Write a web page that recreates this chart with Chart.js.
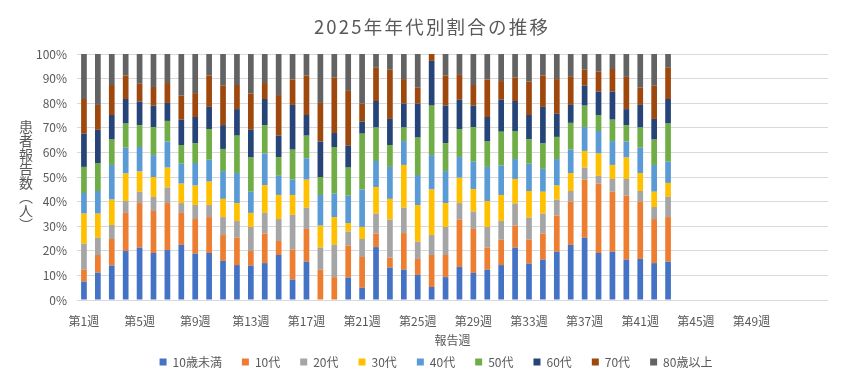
<!DOCTYPE html>
<html lang="ja">
<head>
<meta charset="utf-8">
<script src="https://cdn.jsdelivr.net/npm/chart.js@4"></script>
<style>
  html, body { margin: 0; padding: 0; background: #ffffff; }
  #wrap { position: relative; width: 862px; height: 379px; }
  #title {
    position: absolute; left: 0; top: 17px; width: 862px; text-align: center;
    font-family: 'Noto Sans CJK JP', sans-serif; font-size: 18.5px; line-height: 19px;
    color: #595959; letter-spacing: 2.2px; padding-left: 2px; box-sizing: border-box;
  }
  #ytitle {
    position: absolute; left: 19px; top: 120px;
    writing-mode: vertical-rl; text-orientation: upright;
    font-family: 'Noto Sans CJK JP', sans-serif; font-size: 14px; line-height: 1;
    color: #595959;
  }
</style>
</head>
<body>
<div id="wrap">
  <canvas id="c" width="862" height="379"></canvas>
  <div id="title">2025年年代別割合の推移</div>
  <div id="ytitle">患者報告数（人）</div>
</div>
<script>
const weeks = ["第1週","第2週","第3週","第4週","第5週","第6週","第7週","第8週","第9週","第10週",
  "第11週","第12週","第13週","第14週","第15週","第16週","第17週","第18週","第19週","第20週",
  "第21週","第22週","第23週","第24週","第25週","第26週","第27週","第28週","第29週","第30週",
  "第31週","第32週","第33週","第34週","第35週","第36週","第37週","第38週","第39週","第40週",
  "第41週","第42週","第43週","第44週","第45週","第46週","第47週","第48週","第49週","第50週",
  "第51週","第52週","",""];
const seriesNames = ["10歳未満","10代","20代","30代","40代","50代","60代","70代","80歳以上"];
const yTicks = [0,10,20,30,40,50,60,70,80,90,100];

const under10 = [7.5,11.1,14.0,19.9,21.3,19.1,20.3,22.4,18.8,19.1,15.9,14.2,14.0,15.0,18.3,8.3,15.6,0,0,9.1,5.0,21.5,13.1,12.3,10.2,5.3,9.3,13.4,11.0,12.3,14.2,21.3,14.8,16.4,19.6,22.4,25.3,19.1,19.6,16.4,16.7,15.0,15.6];
const teens = [4.8,7.2,10.8,15.5,18.1,17.1,19.1,13.0,14.1,14.6,10.5,11.1,5.9,12.0,5.7,12.2,13.3,12.3,9.3,13.0,12.5,5.5,4.1,14.9,6.5,13.0,9.0,19.3,17.9,9.0,10.3,8.9,9.7,10.6,14.7,17.6,23.6,28.2,24.4,26.0,23.3,17.9,18.1];
const twenties = [10.6,7.0,5.7,4.8,4.6,5.7,6.3,4.0,5.7,4.9,7.3,6.8,9.8,8.4,8.9,14.1,8.6,9.0,13.1,5.7,7.3,8.1,15.5,10.3,7.0,8.1,11.4,6.7,7.0,8.4,7.6,9.0,9.0,8.1,6.5,4.3,4.9,3.2,5.2,6.8,4.3,4.9,8.2];
const thirties = [12.2,9.8,10.3,11.2,8.2,8.1,8.1,7.9,7.9,9.5,7.4,7.3,5.7,11.3,9.8,8.1,11.4,8.9,11.3,3.5,4.9,10.8,8.4,17.4,14.9,18.5,9.7,10.3,9.2,10.5,10.6,10.0,10.8,8.9,5.7,7.3,6.8,9.0,5.7,8.7,7.3,6.2,5.7];
const forties = [8.4,9.2,14.1,10.5,10.0,8.9,10.6,8.1,9.2,8.9,11.3,12.2,8.6,12.8,7.8,6.2,8.7,12.5,9.5,11.1,15.2,10.6,13.0,9.7,12.2,14.0,13.0,8.4,11.1,13.9,11.9,8.1,11.1,9.3,10.8,9.5,9.7,9.2,9.7,6.5,10.3,10.9,8.6];
const fifties = [10.6,11.4,10.3,9.8,8.9,11.4,8.4,7.6,8.1,12.5,9.0,15.2,13.9,11.6,7.6,12.2,9.2,7.3,19.0,11.4,22.7,13.6,8.9,5.5,15.2,20.1,11.4,11.4,14.1,10.3,13.8,11.4,10.0,10.3,9.0,10.9,8.7,6.5,8.7,6.7,8.2,10.3,15.5];
const sixties = [13.5,13.5,10.0,10.0,9.5,8.7,7.3,10.3,10.6,9.0,9.7,10.8,11.3,10.6,8.7,18.2,8.4,14.4,5.7,8.9,4.9,10.8,10.6,9.7,13.8,18.2,15.2,11.9,8.7,10.0,13.0,12.2,9.8,14.9,9.4,7.3,8.1,9.5,11.4,6.5,9.2,8.4,10.0];
const seventies = [14.1,10.1,12.2,9.5,7.3,7.6,8.1,9.8,9.7,12.7,16.0,9.8,14.7,6.5,16.5,10.3,16.0,15.7,22.5,22.3,7.3,13.5,20.0,10.0,6.5,2.8,12.2,10.1,8.4,15.2,7.6,9.5,13.6,12.7,14.1,11.4,6.5,8.1,9.2,13.1,7.0,13.5,12.7];
const over80 = [18.3,20.7,12.6,8.8,12.1,13.4,11.8,16.9,15.9,8.8,12.9,12.6,16.1,11.8,16.7,10.4,8.8,19.9,9.6,15.0,20.2,5.6,6.4,10.2,13.7,0,8.8,8.5,12.6,10.4,11.0,9.6,11.2,8.8,10.2,9.3,6.4,7.2,6.1,9.3,13.7,12.9,5.6];

const seriesData = [under10, teens, twenties, thirties, forties, fifties, sixties, seventies, over80];
const colors = ["#4472C4","#ED7D31","#A5A5A5","#FFC000","#5B9BD5","#70AD47","#264478","#9E480E","#636363"];

const FONT = "'Noto Sans CJK JP', sans-serif";
const TXT = "#595959";

new Chart(document.getElementById('c'), {
  type: 'bar',
  data: {
    labels: weeks,
    datasets: seriesNames.map((name, i) => ({
      label: name,
      data: seriesData[i],
      backgroundColor: colors[i],
      borderWidth: 0,
      categoryPercentage: 1.0,
      barPercentage: 0.41
    }))
  },
  options: {
    responsive: false,
    animation: false,
    events: [],
    layout: { padding: { left: 10, right: 0, top: 54, bottom: 1 } },
    plugins: {
      title: { display: false },
      legend: {
        position: 'bottom',
        labels: {
          color: TXT,
          font: { family: FONT, size: 12 },
          boxWidth: 7,
          boxHeight: 7,
          padding: 20
        }
      },
      tooltip: { enabled: false }
    },
    scales: {
      x: {
        stacked: true,
        grid: { display: false, drawTicks: false },
        border: { display: false },
        ticks: {
          color: TXT,
          font: { family: FONT, size: 12 },
          autoSkip: false,
          maxRotation: 0,
          minRotation: 0,
          padding: 14,
          callback: function(v, i) { return i % 4 === 0 ? this.getLabelForValue(v) : ''; }
        },
        title: {
          display: true,
          text: '報告週',
          color: TXT,
          font: { family: FONT, size: 12, lineHeight: 1.2 },
          padding: { top: 0, bottom: -12 }
        },
        afterFit: (s) => { s.height = 36; }
      },
      y: {
        stacked: true,
        min: 0,
        max: 100,
        afterBuildTicks: (s) => { s.ticks = yTicks.map(v => ({ value: v })); },
        grid: { color: '#D9D9D9', drawTicks: false, lineWidth: 1 },
        border: { display: false },
        ticks: {
          color: TXT,
          font: { family: FONT, size: 12 },
          padding: 10,
          callback: (v) => v + '%'
        },
        afterFit: (s) => { s.width = 67; }
      },
      yRight: {
        position: 'right',
        display: true,
        grid: { display: false, drawTicks: false },
        border: { display: false },
        ticks: { display: false },
        afterFit: (s) => { s.width = 34; }
      }
    }
  }
});
</script>
</body>
</html>
